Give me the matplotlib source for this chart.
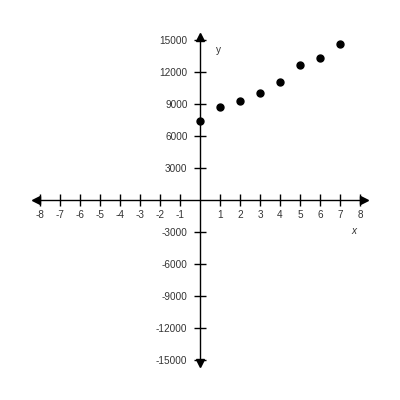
import numpy as np
import matplotlib.pyplot as plt

plt.rcParams['font.family'] = ['Liberation Sans', 'DejaVu Sans']

# datos
x_vals = [0, 1, 2, 3, 4, 5, 6, 7]
y_vals = [7400, 8750, 9300, 10000, 11050, 12650, 13300, 14650]

x_ticks = [-8, -7, -6, -5, -4, -3, -2, -1, 1, 2, 3, 4, 5, 6, 7, 8]
y_ticks = [-15000, -12000, -9000, -6000, -3000, 3000, 6000, 9000, 12000, 15000]

fig = plt.figure(figsize=(4, 4), dpi=100)
ax = fig.add_axes([0, 0, 1, 1])
ax.set_xlim(-10, 10)
ax.set_ylim(-18750, 18750)

# ejes cartesianos en el origen
for s in ['top', 'right']:
    ax.spines[s].set_visible(False)
ax.spines['left'].set_position('zero')
ax.spines['bottom'].set_position('zero')
ax.spines['left'].set_bounds(-15300, 15300)
ax.spines['bottom'].set_bounds(-8.2, 8.2)
for s in ['left', 'bottom']:
    ax.spines[s].set_linewidth(1.0)

# puntas de flecha
ax.plot([8.2], [0], marker='>', color='k', markersize=5.5, clip_on=False)
ax.plot([-8.2], [0], marker='<', color='k', markersize=5.5, clip_on=False)
ax.plot([0], [15300], marker='^', color='k', markersize=5.5, clip_on=False)
ax.plot([0], [-15300], marker='v', color='k', markersize=5.5, clip_on=False)

ax.set_xticks(x_ticks)
ax.set_yticks(y_ticks)
ax.set_xticklabels([str(t) for t in x_ticks])
ax.set_yticklabels([str(t) for t in y_ticks])
ax.tick_params(direction='inout', length=8, width=1, labelsize=7.2, colors='k')
ax.tick_params(axis='x', pad=3)
ax.tick_params(axis='y', pad=5)
for lab in ax.get_xticklabels() + ax.get_yticklabels():
    lab.set_color('#333333')

ax.plot(x_vals, y_vals, 'o', color='k', markersize=5, clip_on=False)

ax.text(0.9, 14100, 'y', fontsize=7.2, color='#333333', ha='center', va='center')
ax.text(7.7, -2950, 'x', fontsize=7.2, style='italic', color='#333333', ha='center', va='center')

fig.savefig('out.png', dpi=100)
